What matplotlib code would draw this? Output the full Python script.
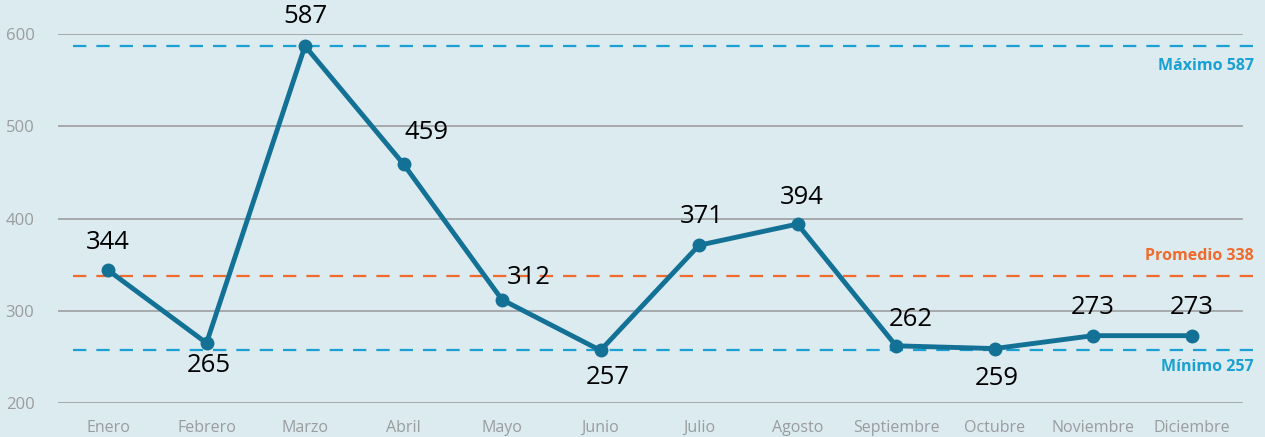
import matplotlib
matplotlib.use("Agg")
import matplotlib.pyplot as plt

# monthly values
months = ["Enero", "Febrero", "Marzo", "Abril", "Mayo", "Junio", "Julio",
          "Agosto", "Septiembre", "Octubre", "Noviembre", "Diciembre"]
values = [344, 265, 587, 459, 312, 257, 371, 394, 262, 259, 273, 273]
maximo = 587
promedio = 338
minimo = 257
y_ticks = [200, 300, 400, 500, 600]

# where each value label sits relative to its point (pixels)
label_offsets = [(0, 28), (2, -22), (0, 29), (23, 32), (27, 22), (7, -27),
                 (3, 29), (4, 27), (15, 26), (2, -30), (0, 28), (0, 28)]

BG = "#dbebf0"
LINE = "#147196"
BLUE = "#1aa0d2"
ORANGE = "#f06a2c"
GRID = "#a3a5a7"
TICK = "#9a9c9e"

plt.rcParams["font.family"] = ["Open Sans", "DejaVu Sans"]

fig = plt.figure(figsize=(12.65, 4.37), dpi=100, facecolor=BG)
ax = fig.add_axes([58 / 1265, 34 / 437, 1197 / 1265, 369 / 437])
ax.set_facecolor(BG)

x = list(range(len(months)))
ax.set_xlim(-50 / 98.5, (1255 - 108) / 98.5)
ax.set_ylim(200, 600)

# grid stops a bit before the right edge, dashed refs run to it
grid_end = (1242 - 58) / 1197
for t in y_ticks:
    ax.axhline(t, xmin=0, xmax=grid_end, color=GRID, lw=1.3, zorder=1)

dash_start = 15 / 1197
dash = (0, (6, 4.5))
ax.axhline(maximo, xmin=dash_start, xmax=1, color=BLUE, lw=1.6, ls=dash, zorder=2)
ax.axhline(minimo, xmin=dash_start, xmax=1, color=BLUE, lw=1.6, ls=dash, zorder=2)
ax.axhline(promedio, xmin=dash_start, xmax=1, color=ORANGE, lw=1.6, ls=dash, zorder=2)

ax.plot(x, values, color=LINE, lw=3.5, marker="o", ms=9, zorder=3, clip_on=False)

for xi, v, (dx, dy) in zip(x, values, label_offsets):
    ax.annotate(str(v), (xi, v), xytext=(dx, dy), textcoords="offset pixels",
                ha="center", va="center", fontsize=18.5, color="black", zorder=4)

ytr = ax.get_yaxis_transform()
ax.annotate(f"Máximo {maximo}", (1.0, maximo), xycoords=ytr, xytext=(-1, -20),
            textcoords="offset pixels", ha="right", va="center",
            fontsize=11.5, fontweight="bold", color=BLUE)
ax.annotate(f"Promedio {promedio}", (1.0, promedio), xycoords=ytr, xytext=(-1, 20),
            textcoords="offset pixels", ha="right", va="center",
            fontsize=11.5, fontweight="bold", color=ORANGE)
ax.annotate(f"Mínimo {minimo}", (1.0, minimo), xycoords=ytr, xytext=(-1, -17),
            textcoords="offset pixels", ha="right", va="center",
            fontsize=11.5, fontweight="bold", color=BLUE)

ax.set_xticks(x)
ax.set_xticklabels(months)
ax.set_yticks(y_ticks)
ax.tick_params(axis="both", length=0, colors=TICK)
ax.tick_params(axis="x", pad=12, labelsize=11.5)
ax.tick_params(axis="y", pad=17, labelsize=12)
for s in ax.spines.values():
    s.set_visible(False)

fig.savefig("out.png", dpi=100, facecolor=BG)
